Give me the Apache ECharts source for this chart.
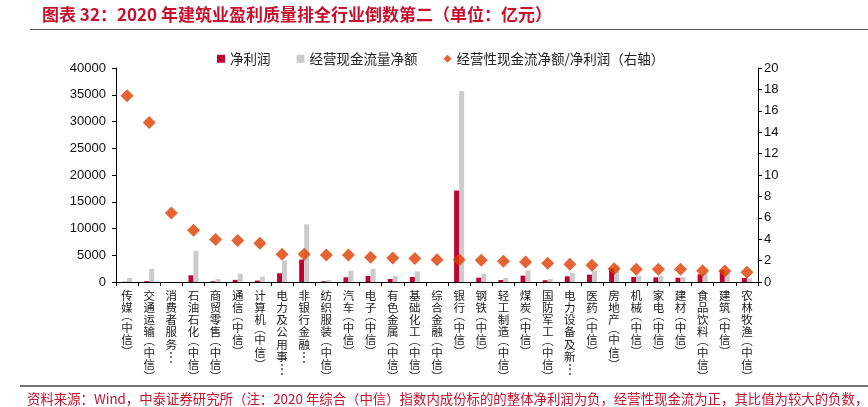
<!DOCTYPE html>
<html>
<head>
<meta charset="utf-8">
<script src="https://cdn.jsdelivr.net/npm/echarts@6/dist/echarts.min.js"></script>
<style>html,body{margin:0;padding:0;background:#fff;}#c{width:868px;height:407px;}</style>
</head>
<body>
<div id="c"></div>
<script>
const categories = ['传媒(中信)','交通运输(中信)','消费者服务…','石油石化(中信)','商贸零售(中信)','通信(中信)','计算机(中信)','电力及公用事…','非银行金融…','纺织服装(中信)','汽车(中信)','电子(中信)','有色金属(中信)','基础化工(中信)','综合金融(中信)','银行(中信)','钢铁(中信)','轻工制造(中信)','煤炭(中信)','国防军工(中信)','电力设备及新…','医药(中信)','房地产(中信)','机械(中信)','家电(中信)','建材(中信)','食品饮料(中信)','建筑(中信)','农林牧渔(中信)'];
const netProfit = [43,163,5,1250,137,400,270,1625,4190,150,875,1125,560,940,-10,17100,810,375,1190,330,1060,1375,2560,940,875,810,1440,2240,750];
const cashFlow = [750,2440,32,5875,560,1560,1000,4000,10800,375,2125,2440,1125,1940,20,35700,1560,750,2190,560,1690,2125,3150,1190,1125,940,1625,2200,690];
const ratio = [17.4,14.9,6.44,4.84,3.97,3.88,3.63,2.6,2.6,2.53,2.53,2.31,2.25,2.19,2.09,2.09,2.03,1.94,1.88,1.75,1.66,1.56,1.25,1.19,1.19,1.19,1.06,1.03,0.9];
const leftTicks = [0,5000,10000,15000,20000,25000,30000,35000,40000];
const rightTicks = [0,2,4,6,8,10,12,14,16,18,20];

const chart = echarts.init(document.getElementById('c'));
const cjk = "'Noto Sans CJK SC', sans-serif";
const num = "'Liberation Sans', Arial, sans-serif";
const red = '#C8102E';
function vert(v){
  return v.split('').map(c=>{
    if(c==='(') return '{p|︵}';
    if(c===')') return '{q|︶}';
    if(c==='…') return '{c|⋮}';
    return '{c|'+c+'}';
  }).join('\n');
}
chart.setOption({
  animation:false,
  grid:{left:116,right:110,top:68,bottom:125},
  legend:{
    left:212, top:47, itemWidth:8, itemHeight:8, itemGap:26,
    textStyle:{fontFamily:cjk,fontSize:13.5,color:'#222'},
    data:[{name:'净利润',icon:'rect'},{name:'经营现金流量净额',icon:'rect'},{name:'经营性现金流净额/净利润（右轴）',icon:'diamond'}]
  },
  xAxis:{
    type:'category', data:categories,
    axisLine:{lineStyle:{color:'#000',width:1}},
    axisTick:{show:true,length:4,lineStyle:{color:'#000'}},
    axisLabel:{interval:0,margin:7,color:'#222',verticalAlign:'top',formatter:vert,
      rich:{c:{fontFamily:cjk,fontSize:11.5,lineHeight:12.3,color:'#222'},
            p:{fontFamily:cjk,fontSize:11.5,lineHeight:8,color:'#222',verticalAlign:'bottom'},
            q:{fontFamily:cjk,fontSize:11.5,lineHeight:8,color:'#222',verticalAlign:'top'}}}
  },
  yAxis:[
    {type:'value',min:leftTicks[0],max:leftTicks[leftTicks.length-1],interval:5000,
     axisLine:{show:true,lineStyle:{color:'#000'}},axisTick:{show:true,length:4,lineStyle:{color:'#000'}},
     splitLine:{show:false},axisLabel:{fontFamily:num,fontSize:13,color:'#111',margin:10,formatter:v=>String(v)}},
    {type:'value',min:rightTicks[0],max:rightTicks[rightTicks.length-1],interval:2,position:'right',
     axisLine:{show:true,lineStyle:{color:'#000'}},axisTick:{show:true,length:4,lineStyle:{color:'#000'}},
     splitLine:{show:false},axisLabel:{fontFamily:num,fontSize:13,color:'#111',margin:6}}
  ],
  series:[
    {name:'净利润',type:'bar',data:netProfit,barWidth:5,barGap:'0%',itemStyle:{color:'#C00033'}},
    {name:'经营现金流量净额',type:'bar',data:cashFlow,barWidth:5,itemStyle:{color:'#CBCBCB'}},
    {name:'经营性现金流净额/净利润（右轴）',type:'scatter',yAxisIndex:1,data:ratio,symbol:'diamond',symbolSize:13,itemStyle:{color:'#E03C00'}}
  ],
  graphic:[
    {type:'text',left:42,top:6,style:{text:'图表 32：2020 年建筑业盈利质量排全行业倒数第二（单位：亿元）',font:"bold 17px 'Noto Sans CJK SC', sans-serif",fill:red}},
    {type:'line',shape:{x1:30,y1:29.5,x2:868,y2:29.5},style:{stroke:'#555',lineWidth:1}},
    {type:'line',shape:{x1:20,y1:386,x2:868,y2:386},style:{stroke:'#444',lineWidth:1.5}},
    {type:'text',left:27,top:392,style:{text:'资料来源：Wind，中泰证券研究所（注：2020 年综合（中信）指数内成份标的的整体净利润为负，经营性现金流为正，其比值为较大的负数，',font:"13.4px 'Noto Sans CJK SC', sans-serif",fill:red}}
  ]
});
</script>
</body>
</html>
